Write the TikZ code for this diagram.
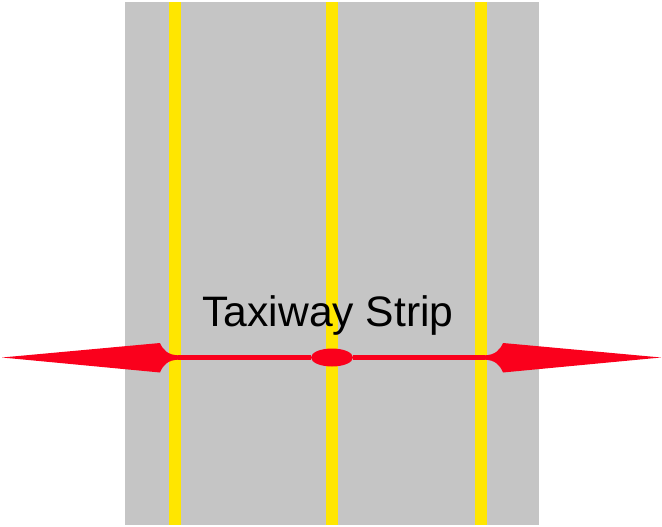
\documentclass[tikz,border=0pt]{standalone}
\usepackage{fontspec}
\setmainfont{Liberation Sans}
\usetikzlibrary{positioning, shapes.geometric}
\definecolor{stripgray}{RGB}{197,197,197}
\definecolor{lineyellow}{RGB}{255,230,0}
\definecolor{arrowred}{RGB}{250,0,28}
\tikzset{
	x=1pt, y=-1pt,
	centreline/.style={draw=lineyellow, line width=12pt},
	shaft/.style={draw=arrowred, line width=4.5pt},
	head/.style={fill=arrowred, draw=none},
	hub/.style={ellipse, fill=arrowred, minimum width=42pt, minimum height=18pt, inner sep=0pt},
	caption/.style={font=\fontsize{42.6}{50}\selectfont, inner sep=0pt, anchor=base}}

\begin{document}
\begin{tikzpicture}
		\useasboundingbox (0,0) rectangle (662,527);
		%strip
		\fill[stripgray] (125,2) rectangle (539,525);
		\draw[centreline] (175,2) -- (175,525);
		\draw[centreline] (332,2) -- (332,525);
		\draw[centreline] (481,2) -- (481,525);
		
		%label
		\node[caption] (label) at (328,326) {Taxiway Strip};
		
		%width arrow
		\node[hub] (mid) at (332,357.5) {};
		\coordinate (lend) at (178,357.5);
		\coordinate (rend) at (485,357.5);
		\draw[shaft] (mid) -- (lend);
		\draw[shaft] (mid) -- (rend);
		\fill[head] (2,357.5) -- (160,343) .. controls (163,350) and (168,355) .. (lend |- 0,355.3)
			-- (lend |- 0,359.7) .. controls (168,360) and (163,365) .. (160,372.5) -- cycle;
		\fill[head] (661,357.5) -- (503,343) .. controls (500,350) and (495,355) .. (rend |- 0,355.3)
			-- (rend |- 0,359.7) .. controls (495,360) and (500,365) .. (503,372.5) -- cycle;
	\end{tikzpicture}
\end{document}
